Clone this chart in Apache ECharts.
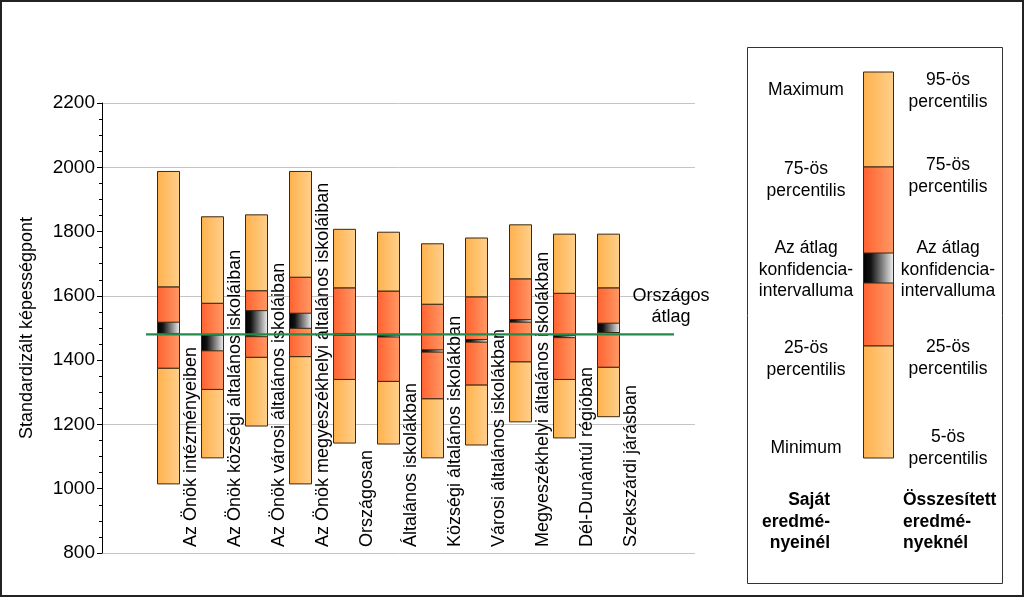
<!DOCTYPE html>
<html><head><meta charset="utf-8">
<script src="https://cdn.jsdelivr.net/npm/echarts@6/dist/echarts.min.js"></script>
<style>
html,body{margin:0;padding:0;background:#fff;}
#frame{position:absolute;left:0;top:0;width:1024px;height:597px;box-sizing:border-box;border:2px solid #222;pointer-events:none;}
#chart{position:absolute;left:0;top:0;width:1024px;height:597px;}
</style></head>
<body>
<div id="chart"></div>
<div id="frame"></div>
<script>
// ---- data ----
const categories = ['Az Önök intézményeiben','Az Önök községi általános iskoláiban','Az Önök városi általános iskoláiban','Az Önök megyeszékhelyi általános iskoláiban','Országosan','Általános iskolákban','Községi általános iskolákban','Városi általános iskolákban','Megyeszékhelyi általános iskolákban','Dél-Dunántúl régióban','Szekszárdi járásban'];
const minVals  = [1015,1096,1195,1015,1142,1139,1096,1136,1208,1158,1224];
const p25Vals  = [1375,1309,1409,1411,1340,1334,1280,1323,1395,1340,1378];
const ciLow    = [1483,1429,1473,1499,1477,1472,1425,1456,1518,1470,1486];
const ciHigh   = [1518,1478,1554,1546,1483,1478,1432,1464,1526,1477,1515];
const p75Vals  = [1628,1577,1616,1658,1625,1615,1574,1597,1653,1608,1625];
const maxVals  = [1987,1846,1852,1987,1807,1798,1762,1780,1821,1792,1792];
const nationalAvg = 1480;
const yTicks = [800,1000,1200,1400,1600,1800,2000,2200];
const yTitle = 'Standardizált képességpont';
const avgLabel = 'Országos\nátlag';
const legendLeft = [['Maximum',90],['75-ös\npercentilis',180],['Az átlag\nkonfidencia-\nintervalluma',270],['25-ös\npercentilis',359],['Minimum',448]];
const legendRight = [['95-ös\npercentilis',91],['75-ös\npercentilis',176],['Az átlag\nkonfidencia-\nintervalluma',270],['25-ös\npercentilis',358],['5-ös\npercentilis',448]];
const legendOwn = 'Saját\neredmé-\nnyeinél';
const legendAll = 'Összesített\neredmé-\nnyeknél';

const FONT = '"Liberation Sans", Arial, sans-serif';
const light = () => new echarts.graphic.LinearGradient(0,0,1,0,[{offset:0,color:'#FFB14C'},{offset:1,color:'#FFD08C'}]);
const dark  = () => new echarts.graphic.LinearGradient(0,0,1,0,[{offset:0,color:'#FF6230'},{offset:1,color:'#FF9A66'}]);
const ciGrad = () => new echarts.graphic.LinearGradient(0,0,1,0,[{offset:0,color:'#000'},{offset:0.25,color:'#111'},{offset:1,color:'#f4f4f4'}]);
const STROKE = '#3a2810';

const data = categories.map((c,i)=>[i+1.5, minVals[i], p25Vals[i], ciLow[i], ciHigh[i], p75Vals[i], maxVals[i], i]);

function renderItem(params, api){
  const x = api.value(0);
  const w = api.size([0.5,0])[0];
  const seg = (lo,hi,fill)=>{
    const a = api.coord([x,hi]), b = api.coord([x,lo]);
    return {type:'rect', shape:{x:Math.round(a[0]-w/2)+0.5, y:a[1], width:w, height:b[1]-a[1]}, style:{fill:fill, stroke:STROKE, lineWidth:1}};
  };
  const cx = api.coord([x,800]);
  const idx = api.value(7);
  return {type:'group', children:[
    seg(api.value(1), api.value(2), light()),
    seg(api.value(2), api.value(5), dark()),
    seg(api.value(5), api.value(6), light()),
    seg(api.value(3), api.value(4), ciGrad()),
    {type:'text', x:cx[0]+23, y:cx[1]-6, rotation:Math.PI/2, z2:10,
     style:{text:categories[idx], align:'left', verticalAlign:'middle', font:'18px '+FONT, fill:'#000'}}
  ]};
}

// legend graphics
const LX = 863, LW = 30;
const legY = {top:72, p75:167, ciTop:253, ciBot:283, p25:346, bot:458};
function lrect(y1,y2,fill){return {type:'rect', z:12, shape:{x:LX+0.5,y:y1,width:LW,height:y2-y1}, style:{fill:fill, stroke:STROKE, lineWidth:1}};}
function ltext(x,y,txt,align,bold){return {type:'text', z:12, x:x, y:y, style:{text:txt, align:align||'center', verticalAlign:'middle', font:(bold?'bold ':'')+'17.5px '+FONT, fill:'#000', lineHeight:21.5}};}

const graphics = [
  {type:'rect', z:11, shape:{x:747.5, y:47.5, width:255, height:536}, style:{fill:'#fff', stroke:'#333', lineWidth:1}},
  lrect(legY.top, legY.p75, light()),
  lrect(legY.p75, legY.p25, dark()),
  lrect(legY.p25, legY.bot, light()),
  lrect(legY.ciTop, legY.ciBot, ciGrad()),
  ...legendLeft.map(d=>ltext(806, d[1], d[0])),
  ...legendRight.map(d=>ltext(948, d[1], d[0])),
  ltext(830, 522, legendOwn, 'right', true),
  ltext(903, 522, legendAll, 'left', true),
  {type:'text', z:12, x:671, y:307, style:{text:avgLabel, align:'center', verticalAlign:'middle', font:'18px '+FONT, fill:'#000', lineHeight:21}}
];

const chart = echarts.init(document.getElementById('chart'), null, {renderer:'canvas'});
chart.setOption({
  animation:false,
  backgroundColor:'#fff',
  grid:{left:102, top:103, width:593, height:450, containLabel:false},
  xAxis:{type:'value', min:0, max:593/44, show:false},
  yAxis:[{
    type:'value', min:800, max:2200, interval:200, position:'left',
    name:yTitle, nameLocation:'middle', nameGap:66, nameRotate:90,
    nameTextStyle:{fontFamily:FONT, fontSize:18, color:'#000'},
    axisLine:{show:true, lineStyle:{color:'#000', width:1}},
    axisTick:{show:true, length:5, lineStyle:{color:'#000'}},
    minorTick:{show:true, splitNumber:4, length:3, lineStyle:{color:'#000'}},
    splitLine:{show:false},
    axisLabel:{fontFamily:FONT, fontSize:19, color:'#000', margin:7,
      formatter:v=>yTicks.includes(v)?String(v):''}
  },{
    type:'value', min:800, max:2200, interval:400, position:'left',
    axisLine:{show:false}, axisTick:{show:false}, axisLabel:{show:false},
    splitLine:{show:true, lineStyle:{color:'#c4c4c4', width:1}}
  }],
  series:[{
    type:'custom', renderItem:renderItem, data:data, z:3, clip:false,
    encode:{x:0, y:[1,6]}
  },{
    type:'line', data:[[1,nationalAvg],[13,nationalAvg]], symbol:'none', z:5,
    lineStyle:{color:'#238a4e', width:2.2}, silent:true
  }],
  graphic:graphics
});
</script>
</body></html>
